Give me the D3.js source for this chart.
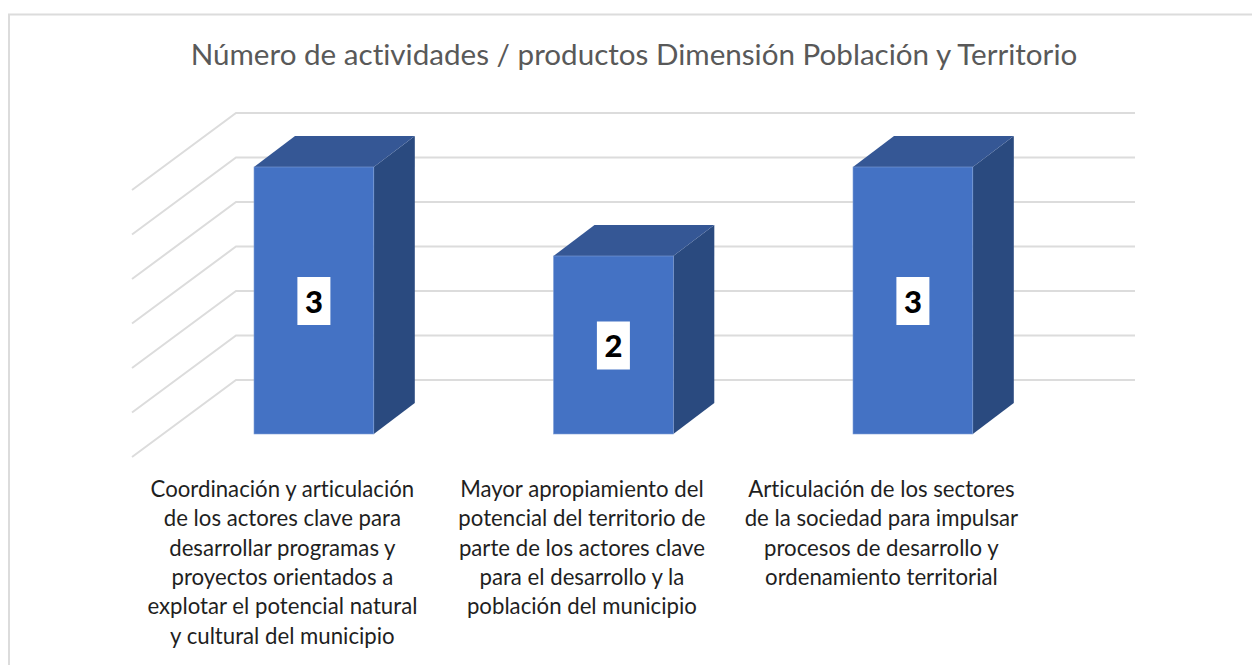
<!DOCTYPE html>
<html>
<head>
<meta charset="utf-8">
<script src="https://cdn.jsdelivr.net/npm/d3@7"></script>
<style>
html, body { margin: 0; padding: 0; background: #fff; }
svg { display: block; }
text { font-family: Lato, "Open Sans", sans-serif; font-variant-ligatures: none; }
</style>
</head>
<body>
<div id="chart"></div>
<script>
var chartTitle = 'Número de actividades / productos Dimensión Población y Territorio';
var categories = ['a', 'b', 'c'];
var values = [3, 2, 3];
var categoryLines = [
    ['Coordinación y articulación', 'de los actores clave para', 'desarrollar programas y', 'proyectos orientados a', 'explotar el potencial natural', 'y cultural del municipio'],
    ['Mayor apropiamiento del', 'potencial del territorio de', 'parte de los actores clave', 'para el desarrollo y la', 'población del municipio'],
    ['Articulación de los sectores', 'de la sociedad para impulsar', 'procesos de desarrollo y', 'ordenamiento territorial']
];
var gridValues = [0, 0.5, 1, 1.5, 2, 2.5, 3];

var width = 1252, height = 665;

// depth of the 3d box, front face to back wall
var depthX = 41, depthY = 31;
var wallX = 104, wallY = 77;

var svg = d3.select('#chart').append('svg')
        .attr('width', width)
        .attr('height', height);

// chart frame runs off the right and bottom of the picture
svg.append('rect')
        .attr('x', 9)
        .attr('y', 14.5)
        .attr('width', 1260)
        .attr('height', 670)
        .attr('fill', '#fff')
        .attr('stroke', '#dcdcdc')
        .attr('stroke-width', 2);

svg.append('text')
        .attr('x', 634)
        .attr('y', 65)
        .attr('text-anchor', 'middle')
        .attr('font-size', 29.6)
        .attr('fill', '#595959')
        .text(chartTitle);

var x = d3.scaleBand()
        .domain(categories)
        .range([164.15, 1062.65])
        .paddingInner(0.6)
        .paddingOuter(0.3);

// y is measured on the back wall
var y = d3.scaleLinear().domain([0, 3]).range([380, 113]);
var frontY = function(v) { return y(v) + wallY - 23; };

var grid = svg.append('g').selectAll('path').data(gridValues).enter().append('path');
grid.attr('d', function(d) {
            return 'M' + (236 - wallX) + ',' + (y(d) + wallY) + 'L236,' + y(d) + 'L1135,' + y(d);
        })
        .attr('fill', 'none')
        .attr('stroke', '#dcdcdc')
        .attr('stroke-width', 2);

var bars = svg.append('g').selectAll('g').data(values).enter().append('g');

bars.append('path')
        .attr('d', function(d, i) {
            var x1 = x(categories[i]) + x.bandwidth();
            return 'M' + x1 + ',' + frontY(d) + 'l' + depthX + ',' + (-depthY) +
                    'L' + (x1 + depthX) + ',' + (frontY(0) - depthY) + 'L' + x1 + ',' + frontY(0) + 'Z';
        })
        .attr('fill', '#2a4a7f');

bars.append('path')
        .attr('d', function(d, i) {
            var x0 = x(categories[i]);
            return 'M' + x0 + ',' + frontY(d) + 'l' + depthX + ',' + (-depthY) +
                    'h' + x.bandwidth() + 'l' + (-depthX) + ',' + depthY + 'Z';
        })
        .attr('fill', '#355795');

bars.append('rect')
        .attr('x', function(d, i) { return x(categories[i]); })
        .attr('y', function(d) { return frontY(d); })
        .attr('width', x.bandwidth())
        .attr('height', function(d) { return frontY(0) - frontY(d); })
        .attr('fill', '#4472c4')
        .attr('stroke', '#7f9fd8')
        .attr('stroke-width', 0.6);

// white box behind the value
bars.append('rect')
        .attr('x', function(d, i) { return x(categories[i]) + x.bandwidth() / 2 - 16.5; })
        .attr('y', function(d) { return (frontY(d) + frontY(0)) / 2 - 23.5; })
        .attr('width', 33)
        .attr('height', 48)
        .attr('fill', '#fff');

bars.append('text')
        .attr('x', function(d, i) { return x(categories[i]) + x.bandwidth() / 2; })
        .attr('y', function(d) { return (frontY(d) + frontY(0)) / 2 + 12; })
        .attr('text-anchor', 'middle')
        .attr('font-size', 31)
        .attr('font-weight', 900)
        .attr('fill', '#000')
        .text(function(d) { return d; });

var labels = svg.append('g').selectAll('text').data(categoryLines).enter().append('text')
        .attr('text-anchor', 'middle')
        .attr('font-size', 22.2)
        .attr('fill', '#1f1f1f');

labels.selectAll('tspan').data(function(d, i) {
            return d.map(function(t) { return {text: t, cat: categories[i]}; });
        }).enter().append('tspan')
        .attr('x', function(d) { return x(d.cat) + x.bandwidth() / 2 - 31.5; })
        .attr('y', function(d, i) { return 497 + i * 29.3; })
        .text(function(d) { return d.text; });
</script>
</body>
</html>
